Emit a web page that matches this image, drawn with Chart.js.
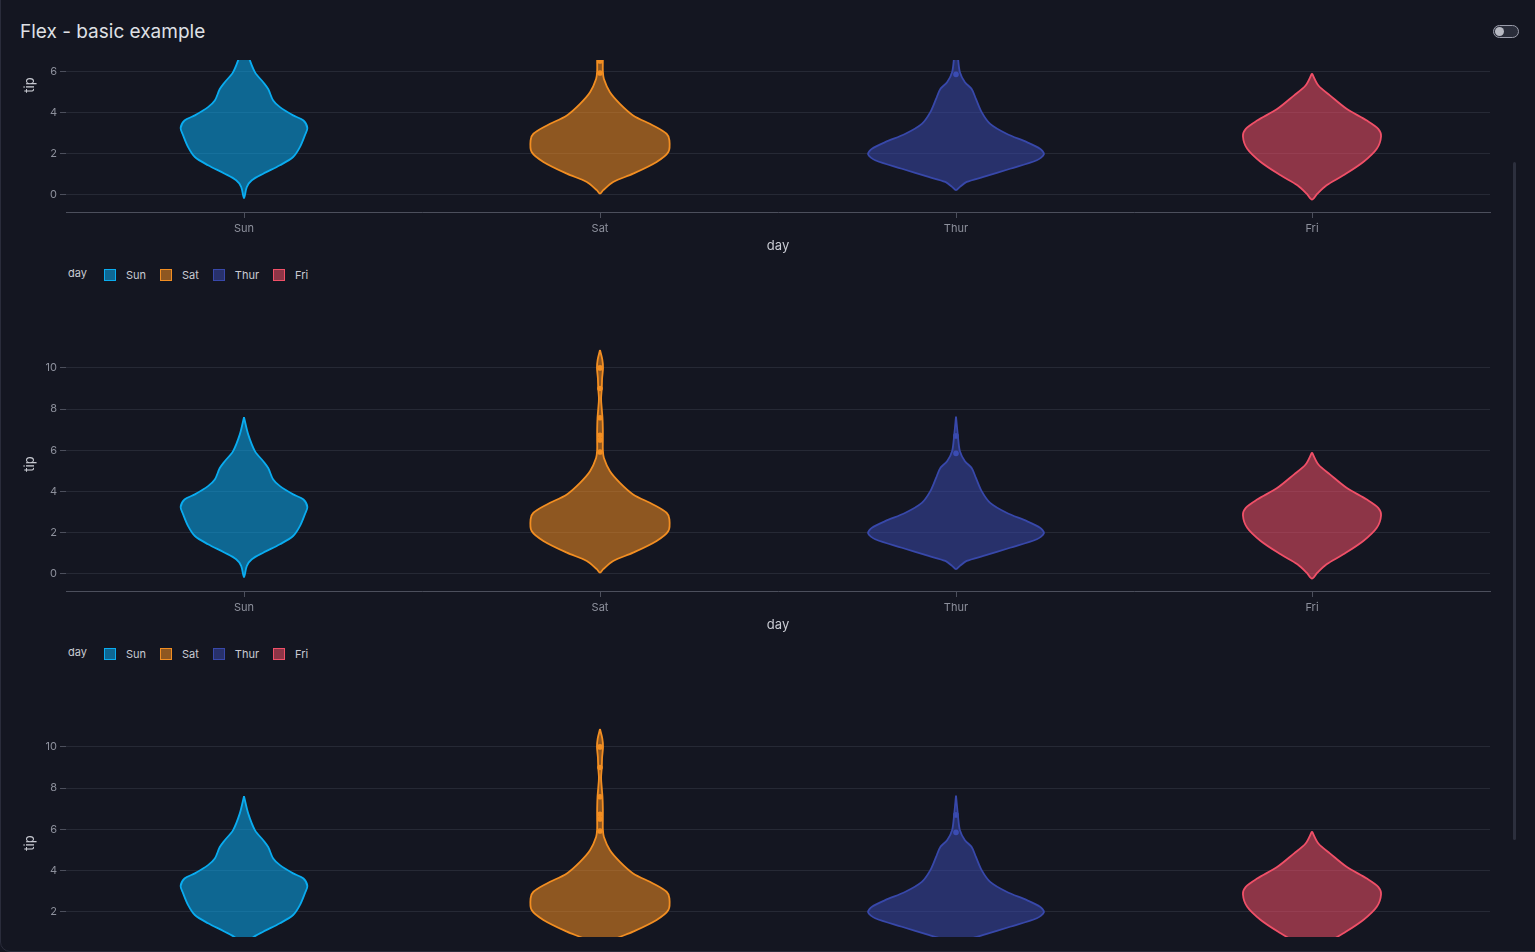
<!DOCTYPE html>
<html><head><meta charset="utf-8">
<script src="https://cdn.jsdelivr.net/npm/chart.js@4.4.1/dist/chart.umd.min.js"></script>
<style>
html,body{margin:0;padding:0;background:#141621;width:1535px;height:952px;overflow:hidden;font-family:Inter,"Noto Sans",sans-serif;}
#frame{position:absolute;left:0;top:-12px;width:1560px;height:964px;border:1px solid #2a2c3b;border-radius:10px;box-sizing:border-box;}
#title{position:absolute;left:20px;top:20px;font-size:19px;color:#dfe0e5;line-height:24px;}
#toggle{position:absolute;left:1493px;top:25px;width:26px;height:13px;border:1px solid #9a9caa;border-radius:7px;box-sizing:border-box;background:#2a2d3a}
#toggle::after{content:"";position:absolute;left:1px;top:1px;width:9px;height:9px;border-radius:50%;background:#b7b9c2}
#scroller{position:absolute;left:0;top:60px;width:1535px;height:877px;overflow:hidden}
.block{position:absolute;left:0;width:1535px;height:379px}
.block canvas{position:absolute;left:0;top:0}
.legend{position:absolute;left:68px;top:349px;height:16px;display:flex;align-items:center;font-size:11px;color:#c9cbd3;white-space:nowrap}
.legend .lt{margin-right:17px;position:relative;top:-2px}
.legend .sq{width:12px;height:12px;box-sizing:border-box;border:1.5px solid;margin-right:10px}
.legend .tx{margin-right:14px}
#sb{position:absolute;left:1513px;top:162px;width:3px;height:678px;background:#2c2f3d;border-radius:2px}
</style></head>
<body>
<div id="frame"></div>
<div id="title">Flex - basic example</div>
<div id="toggle"></div>
<div id="scroller"><div id="inner"></div></div>
<div id="sb"></div>
<script>
// ---- data ----
const days = ["Sun", "Sat", "Thur", "Fri"];
const yTicks = [0, 2, 4, 6, 8, 10];
const xTitle = "day";
const yTitle = "tip";
// violin outlines: tip levels (top -> bottom) and half-widths (in category widths)
const sunLevels = [7.6, 6.76, 5.95, 5.47, 5.14, 4.58, 4.26, 3.86, 3.61, 3.24, 2.89, 2.32, 1.84, 1.44, 1.03, 0.71, 0.39, -0.15];
const sunWidths = [0, 0.012, 0.031, 0.054, 0.068, 0.082, 0.101, 0.138, 0.167, 0.178, 0.171, 0.157, 0.138, 0.101, 0.054, 0.022, 0.008, 0];
const satLevels = [10.87, 10.4, 10.0, 9.5, 9.0, 8.5, 8.0, 7.56, 7.0, 6.5, 6.0, 5.63, 4.98, 4.42, 3.86, 3.37, 2.97, 2.65, 2.08, 1.60, 1.03, 0.63, 0.23, 0.06];
const satWidths = [0, 0.0065, 0.0085, 0.006, 0.005, 0.003, 0.005, 0.007, 0.008, 0.008, 0.008, 0.011, 0.028, 0.056, 0.093, 0.149, 0.187, 0.195, 0.192, 0.159, 0.093, 0.037, 0.009, 0];
const thurLevels = [7.64, 6.76, 5.95, 5.47, 5.14, 4.66, 4.02, 3.45, 2.97, 2.56, 2.24, 1.97, 1.68, 1.27, 0.87, 0.63, 0.39, 0.23];
const thurWidths = [0, 0.005, 0.011, 0.025, 0.044, 0.056, 0.072, 0.096, 0.142, 0.199, 0.236, 0.247, 0.227, 0.152, 0.077, 0.030, 0.011, 0];
const friLevels = [5.9, 5.31, 4.82, 4.18, 3.61, 3.21, 2.85, 2.24, 1.60, 0.95, 0.47, 0.06, -0.23];
const friWidths = [0, 0.018, 0.051, 0.097, 0.154, 0.186, 0.194, 0.182, 0.144, 0.088, 0.041, 0.015, 0];
// outlier points
const sunOutliers = [];
const satOutliers = [10.0, 9.0, 7.58, 6.73, 6.5, 5.92];
const thurOutliers = [6.7, 5.85];
const friOutliers = [];

const lineColors = ["rgb(10,172,240)", "rgb(242,142,34)", "rgb(56,72,170)", "rgb(240,80,104)"];
const fillColors = ["rgba(10,172,240,0.55)", "rgba(242,142,34,0.55)", "rgba(56,72,170,0.55)", "rgba(240,80,104,0.55)"];
const pointColors = ["rgb(10,172,240)", "rgb(242,142,34)", "rgb(62,80,190)", "rgb(240,80,104)"];

const profiles = [[sunLevels, sunWidths], [satLevels, satWidths], [thurLevels, thurWidths], [friLevels, friWidths]];
const outliers = [sunOutliers, satOutliers, thurOutliers, friOutliers];

Chart.defaults.font.family = "Inter, 'Noto Sans', sans-serif";

function violinPoints(i, levels, widths) {
  const right = levels.map((v, k) => ({x: i + widths[k], y: v}));
  const left = levels.map((v, k) => ({x: i - widths[k], y: v})).reverse();
  return right.concat(left.slice(1));
}

const violinFill = {
  id: 'violinFill',
  beforeDatasetDraw(chart, args) {
    const ds = chart.data.datasets[args.index];
    const meta = args.meta;
    if (!ds.violin || !meta.dataset) return;
    const ctx = chart.ctx, a = chart.chartArea;
    meta.dataset.updateControlPoints(a, 'x');
    ctx.save();
    ctx.beginPath(); ctx.rect(a.left, a.top, a.right - a.left, a.bottom - a.top); ctx.clip();
    ctx.beginPath();
    meta.dataset.path(ctx);
    ctx.closePath();
    ctx.fillStyle = ds.violinFill;
    ctx.fill();
    ctx.restore();
  }
};

const gridColor = "#262935";
const axisColor = "#4c4f5c";
const tickText = "#8d909c";
const titleText = "#c9cbd3";

function makeBlock(k) {
  const inner = document.getElementById('inner');
  const b = document.createElement('div');
  b.className = 'block';
  b.style.top = (-142 + 379 * k) + 'px';
  const c = document.createElement('canvas');
  c.width = 1535; c.height = 340;
  c.style.width = '1535px'; c.style.height = '340px';
  b.appendChild(c);
  const lg = document.createElement('div');
  lg.className = 'legend';
  let html = '<span class="lt">' + xTitle + '</span>';
  days.forEach((d, i) => {
    html += '<span class="sq" style="border-color:' + lineColors[i] + ';background:' + fillColors[i] + '"></span><span class="tx">' + d + '</span>';
  });
  lg.innerHTML = html;
  b.appendChild(lg);
  inner.appendChild(b);

  const datasets = [];
  days.forEach((d, i) => {
    datasets.push({
      label: d, violin: true, violinFill: fillColors[i],
      data: violinPoints(i, profiles[i][0], profiles[i][1]),
      borderColor: lineColors[i], borderWidth: 1.8, pointRadius: 0,
      tension: 0.3, fill: false, borderJoinStyle: 'round'
    });
  });
  days.forEach((d, i) => {
    if (!outliers[i].length) return;
    datasets.push({
      label: d + ' points', data: outliers[i].map(v => ({x: i, y: v})),
      showLine: false, pointRadius: 2.8, pointBorderWidth: 0,
      pointBackgroundColor: pointColors[i], borderColor: pointColors[i]
    });
  });

  new Chart(c, {
    type: 'line',
    data: {datasets},
    plugins: [violinFill],
    options: {
      responsive: false, animation: false, devicePixelRatio: 1,
      layout: {padding: {left: 0, right: 45, top: 40, bottom: 0}},
      plugins: {legend: {display: false}, tooltip: {enabled: false}},
      scales: {
        x: {
          type: 'linear', min: -0.5, max: 3.5,
          afterBuildTicks: s => { s.ticks = days.map((_, i) => ({value: i})); },
          afterFit: s => { s.height = 46; },
          ticks: {callback: v => days[v], color: tickText, font: {size: 11}, padding: 4, maxRotation: 0, autoSkip: false},
          grid: {display: true, drawOnChartArea: false, drawTicks: true, tickLength: 6, tickColor: axisColor},
          border: {display: true, color: axisColor, width: 1},
          title: {display: true, text: xTitle, color: titleText, font: {size: 13}, padding: {top: 0, bottom: 4}}
        },
        y: {
          type: 'linear', min: -0.83, max: 11.5,
          afterBuildTicks: s => { s.ticks = yTicks.map(v => ({value: v})); },
          afterFit: s => { s.width = 66; },
          ticks: {color: tickText, font: {size: 11}, padding: 3},
          grid: {color: gridColor, tickColor: axisColor, tickLength: 6, drawTicks: true},
          border: {display: false},
          title: {display: true, text: yTitle, color: titleText, font: {size: 13}, padding: {top: 22, bottom: 0}}
        }
      }
    }
  });
}
[0, 1, 2].forEach(makeBlock);
</script>
</body></html>
